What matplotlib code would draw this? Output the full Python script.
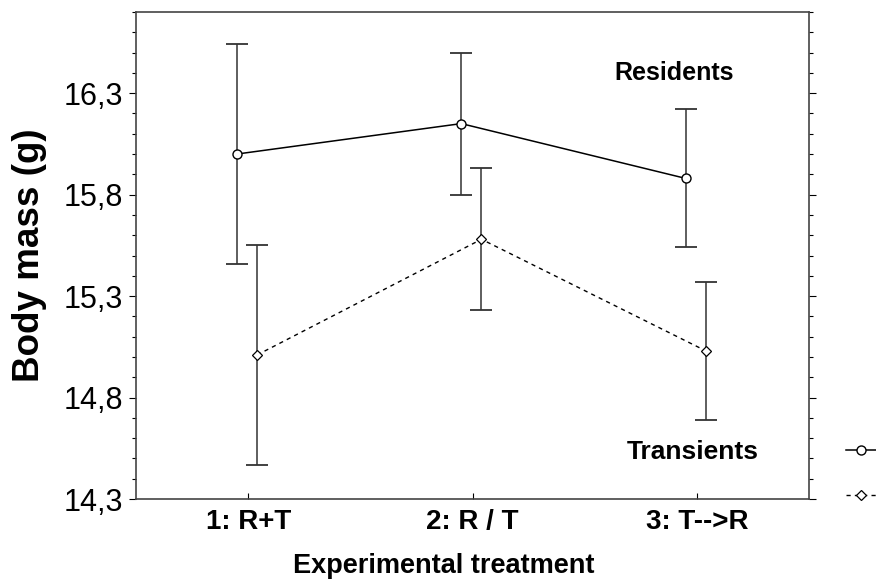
"""
Body mass of residents and transients per experimental treatment
"""

import numpy as np
import matplotlib
matplotlib.use("Agg")
import matplotlib.pyplot as plt
from matplotlib.ticker import MultipleLocator, FuncFormatter

plt.rcParams['font.family'] = ['Liberation Sans', 'DejaVu Sans']

treatments = ["1: R+T", "2: R / T", "3: T-->R"]

res_mean = [16.00, 16.15, 15.88]
res_low = [15.46, 15.80, 15.54]
res_high = [16.54, 16.50, 16.22]

tra_mean = [15.01, 15.58, 15.03]
tra_low = [14.47, 15.23, 14.69]
tra_high = [15.55, 15.93, 15.37]

x = np.arange(1, len(treatments) + 1)
res_x = x - 0.05
tra_x = x + 0.04

fig = plt.figure(figsize=[8.76, 5.85], dpi=100)
ax = fig.add_axes([136/876, 86/585, 673/876, 487/585])

res_err = [np.array(res_mean) - np.array(res_low), np.array(res_high) - np.array(res_mean)]
tra_err = [np.array(tra_mean) - np.array(tra_low), np.array(tra_high) - np.array(tra_mean)]

ax.errorbar(res_x, res_mean, yerr=res_err, fmt='none', ecolor='#333333',
            elinewidth=1.1, capsize=8, capthick=1.3)
ax.errorbar(tra_x, tra_mean, yerr=tra_err, fmt='none', ecolor='#333333',
            elinewidth=1.1, capsize=8, capthick=1.3)

l_res, = ax.plot(res_x, res_mean, '-', color='black', lw=1.1, marker='o',
                 ms=6.5, mfc='white', mec='black', mew=1.0, zorder=3)
l_tra, = ax.plot(tra_x, tra_mean, color='black', lw=1.0, ls=(0, (3, 3)), marker='D',
                 ms=5, mfc='white', mec='black', mew=0.9, zorder=3)

ax.set_xlim(0.5, 3.5)
ax.set_ylim(14.3, 16.7)
ax.set_xticks(x)
ax.set_xticklabels(treatments, fontsize=20, fontweight='bold')
ax.set_yticks([14.3, 14.8, 15.3, 15.8, 16.3])
ax.yaxis.set_major_formatter(FuncFormatter(lambda v, p: ("%.1f" % v).replace('.', ',')))
ax.yaxis.set_minor_locator(MultipleLocator(0.1))
ax.tick_params(axis='y', which='both', direction='out', left=True, right=True,
               labelsize=22, width=0.8, color='black')
ax.tick_params(axis='y', which='major', length=5, pad=4)
ax.tick_params(axis='y', which='minor', length=3)
ax.tick_params(axis='x', direction='in', length=4, width=0.8, pad=7)

for s in ax.spines.values():
    s.set_linewidth(1.2)
    s.set_color('#444444')

ax.set_xlabel("Experimental treatment", fontsize=19.5, fontweight='bold')
ax.xaxis.set_label_coords((444 - 136) / 673, -54 / 487)
ax.set_ylabel("Body mass (g)", fontsize=26.5, fontweight='bold')
ax.yaxis.set_label_coords(-89 / 673, 0.5)

ax.text(2.90, 16.40, "Residents", fontsize=18, fontweight='bold', ha='center', va='center')
ax.text(2.98, 14.53, "Transients", fontsize=19, fontweight='bold', ha='center', va='center')

fig.legend([l_res, l_tra], [' ', ' '], loc='center left', frameon=False,
           bbox_to_anchor=(846/876, 0.19), fontsize=11, handlelength=2.0,
           labelspacing=2.05, borderpad=0, borderaxespad=0)

fig.savefig("out.png", dpi=100)
